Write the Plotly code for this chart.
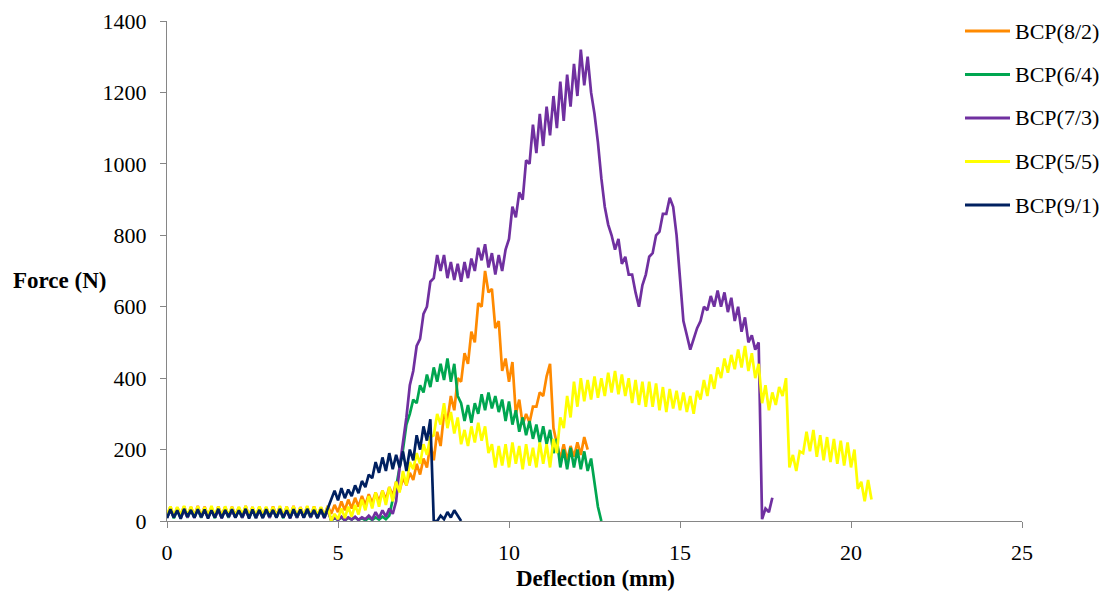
import plotly.graph_objects as go

STEP = 0.1  # sampling interval of the read-off values (mm)

names = ["BCP(8/2)", "BCP(6/4)", "BCP(7/3)", "BCP(5/5)", "BCP(9/1)"]
colors = ["#FF8A00", "#00A650", "#7030A0", "#FFFF00", "#002060"]

orange_y = [
    14, 40, 12, 38, 16, 41, 13, 39, 15, 42,
    12, 40, 14, 37, 11, 41, 15, 39, 13, 40,
    16, 38, 12, 42, 14, 39, 11, 40, 15, 38,
    13, 41, 16, 39, 12, 40, 14, 42, 11, 39,
    15, 40, 13, 41, 12, 38, 16, 42, 20, 45,
    25, 55, 30, 60, 35, 65, 40, 70, 45, 75,
    50, 80, 55, 85, 60, 95, 70, 110, 85, 120,
    100, 135, 115, 160, 130, 175, 150, 215, 170, 250,
    210, 300, 280, 350, 310, 400, 390, 470, 440, 530,
    500, 610, 600, 700, 640, 650, 540, 560, 420, 455,
    390, 445, 300, 340, 270, 300, 275, 320, 320, 360,
    350, 405, 440, 260, 215, 175, 215, 170, 210, 180,
    220, 185, 235, 200,
]
green_y = [
    10, 32, 8, 30, 11, 33, 9, 31, 10, 32,
    9, 31, 11, 30, 8, 33, 10, 32, 9, 31,
    11, 30, 9, 33, 10, 31, 8, 32, 11, 30,
    9, 32, 10, 31, 8, 33, 11, 30, 9, 32,
    10, 31, 9, 33, 11, 30, 10, 32, 2, 8,
    3, 10, 2, 9, 4, 10, 3, 8, 2, 9,
    3, 10, 4, 12, 5, 15, 60, 95, 150, 200,
    270, 300, 340, 330, 380, 360, 410, 375, 430, 390,
    440, 395, 455, 390, 440, 350, 330, 280, 325, 275,
    330, 300, 355, 310, 360, 315, 350, 305, 340, 280,
    335, 270, 310, 250, 290, 240, 280, 230, 270, 220,
    265, 215, 255, 190, 230, 150, 200, 145, 205, 150,
    200, 145, 195, 140, 175, 110, 40, 0,
]
purple_y = [
    9, 31, 11, 33, 8, 30, 10, 32, 9, 34,
    11, 30, 9, 32, 10, 31, 8, 33, 11, 30,
    10, 32, 9, 31, 11, 33, 8, 30, 10, 32,
    9, 33, 11, 31, 10, 30, 8, 32, 9, 31,
    11, 33, 10, 30, 9, 32, 8, 31, 2, 10,
    3, 12, 2, 10, 4, 12, 3, 10, 5, 15,
    5, 25, 8, 30, 12, 35, 20, 55, 150, 220,
    290, 380, 420, 490, 510, 580, 600, 670, 680, 745,
    700, 745, 680, 725, 675, 720, 670, 725, 680, 735,
    700, 765, 730, 775, 710, 750, 690, 745, 700, 760,
    790, 880, 850, 920, 900, 1010, 1000, 1110, 1030, 1140,
    1050, 1160, 1080, 1190, 1100, 1230, 1120, 1250, 1160, 1280,
    1190, 1320, 1220, 1300, 1200, 1140, 1060, 960, 880, 830,
    800, 760, 790, 720, 740, 690, 690, 640, 600, 660,
    690, 740, 750, 800, 810, 860, 860, 905, 880, 800,
    680, 560, 520, 480, 510, 540, 560, 600, 590, 630,
    600, 645, 600, 640, 585, 625, 560, 600, 530, 570,
    500, 520, 480, 500, 5, 35, 25, 65,
]
yellow_y = [
    16, 41, 14, 39, 17, 42, 15, 40, 13, 41,
    16, 38, 14, 42, 15, 40, 13, 41, 17, 39,
    14, 40, 16, 42, 13, 39, 15, 41, 14, 40,
    17, 39, 13, 42, 15, 40, 16, 41, 14, 38,
    15, 42, 13, 40, 16, 39, 14, 41, 0, 20,
    5, 35, 8, 40, 12, 45, 18, 60, 30, 70,
    35, 80, 40, 85, 45, 95, 55, 110, 80, 140,
    100, 165, 145, 190, 160, 215, 185, 235, 240, 300,
    270, 330, 260, 305, 245, 290, 215, 255, 210, 265,
    220, 275, 225, 265, 190, 215, 150, 210, 155, 215,
    150, 220, 160, 210, 145, 215, 155, 205, 150, 220,
    160, 215, 150, 230, 190, 290, 260, 350, 290, 390,
    320, 400, 335, 395, 340, 405, 345, 400, 350, 415,
    360, 420, 355, 410, 350, 400, 330, 395, 325, 390,
    320, 390, 320, 385, 310, 375, 305, 370, 315, 365,
    310, 360, 305, 350, 300, 365, 340, 395, 350, 410,
    370, 430, 400, 455, 415, 465, 425, 480, 430, 490,
    420, 470, 400, 440, 330, 380, 310, 360, 325, 375,
    350, 400, 150, 185, 140, 195, 190, 250, 195, 255,
    180, 240, 170, 235, 165, 230, 160, 225, 155, 220,
    150, 200, 90, 110, 55, 115, 60,
]
navy_y = [
    8, 33, 10, 30, 6, 34, 12, 31, 9, 33,
    11, 32, 7, 30, 10, 34, 8, 31, 12, 33,
    9, 30, 11, 34, 7, 32, 10, 31, 8, 33,
    12, 31, 9, 34, 10, 30, 8, 33, 11, 32,
    9, 34, 12, 31, 8, 33, 10, 35, 62, 85,
    58, 92, 64, 88, 70, 100, 78, 112, 95, 130,
    120, 165, 135, 178, 140, 190, 145, 185, 150, 195,
    140, 200, 170, 240, 200, 265, 225, 285, 0, 0,
    15, 5, 25, 10, 30, 15, 0,
]

series = [orange_y, green_y, purple_y, yellow_y, navy_y]

x_ticks = [0, 5, 10, 15, 20, 25]
y_ticks = [0, 200, 400, 600, 800, 1000, 1200, 1400]

FONT = "Liberation Serif, Times New Roman, serif"

# The page body has an 8px margin, so the figure starts at (8, 8) in the window.
OFF = 8
PAGE_W, PAGE_H = 1107, 592
W, H = PAGE_W - OFF, PAGE_H - OFF
# plot area in window pixels: x 167..1022, y 21..521
PX0, PX1, PY0, PY1 = 167, 1022, 21, 521
ML, MT = PX0 - OFF, PY0 - OFF
MR, MB = W - (PX1 - OFF), H - (PY1 - OFF)
PW, PH = PX1 - PX0, PY1 - PY0


def px_to_paper_x(px):
    return (px - PX0) / PW


def py_to_paper_y(py):
    return (PY1 - py) / PH


fig = go.Figure()
for name, color, ys in zip(names, colors, series):
    xs = [round(i * STEP, 2) for i in range(len(ys))]
    fig.add_trace(go.Scatter(
        x=xs, y=ys, mode="lines", name=name, showlegend=False,
        line=dict(color=color, width=2.7),
    ))

axis_common = dict(
    showgrid=False, zeroline=False, showline=True, linecolor="#868686",
    linewidth=1, ticks="outside", ticklen=6, tickcolor="#868686",
    tickfont=dict(family=FONT, size=22, color="#000000"),
    automargin=False,
)
fig.update_xaxes(range=[0, 25], tickvals=x_ticks, ticklabelstandoff=6, **axis_common)
fig.update_yaxes(range=[0, 1400], tickvals=y_ticks, ticklabelstandoff=9, **axis_common)

# manual legend (line sample + label) at the top right
shapes = []
annotations = []
for i, (name, color) in enumerate(zip(names, colors)):
    yc = py_to_paper_y(31 + 43.5 * i)
    shapes.append(dict(
        type="line", xref="paper", yref="paper",
        x0=px_to_paper_x(965), x1=px_to_paper_x(1010), y0=yc, y1=yc,
        line=dict(color=color, width=3),
    ))
    annotations.append(dict(
        text=name, xref="paper", yref="paper",
        x=px_to_paper_x(1013), y=yc, xanchor="left", yanchor="middle",
        showarrow=False, font=dict(family=FONT, size=22, color="#000000"),
    ))

annotations += [
    dict(text="<b>Deflection (mm)</b>", xref="paper", yref="paper",
         x=px_to_paper_x(595), y=py_to_paper_y(578), xanchor="center", yanchor="middle",
         showarrow=False, font=dict(family=FONT, size=23, color="#000000")),
    dict(text="<b>Force (N)</b>", xref="paper", yref="paper",
         x=px_to_paper_x(59), y=py_to_paper_y(280), xanchor="center", yanchor="middle",
         showarrow=False, font=dict(family=FONT, size=23, color="#000000")),
]

fig.update_layout(
    width=W, height=H,
    margin=dict(l=ML, r=MR, t=MT, b=MB, autoexpand=False),
    paper_bgcolor="white", plot_bgcolor="white",
    font=dict(family=FONT, size=22, color="#000000"),
    showlegend=False,
    shapes=shapes,
    annotations=annotations,
)

fig.write_html("out.html")
